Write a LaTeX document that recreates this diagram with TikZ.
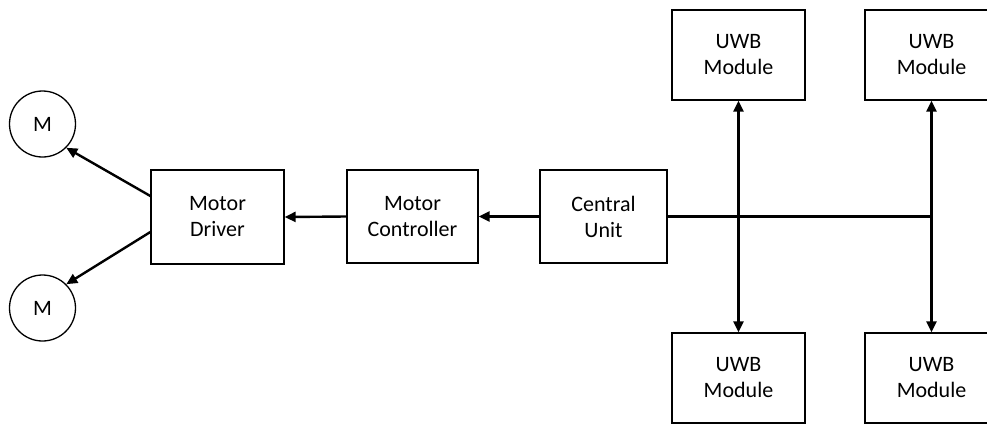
\documentclass[tikz,border=0pt]{standalone}
\usepackage{fontspec}
\setmainfont{Carlito}
\usetikzlibrary{arrows.meta}
\begin{document}
\begin{tikzpicture}[x=1pt,y=-1pt,
  block/.style={draw, line width=1.3pt, rectangle, align=center, inner sep=0pt,
    font=\fontsize{22}{26}\selectfont},
  motor/.style={draw, line width=1.3pt, circle, minimum size=66pt, inner sep=0pt,
    font=\fontsize{22}{26}\selectfont},
  link/.style={line width=2.4pt, -{Triangle[length=11pt,width=10pt]}},
  duplex/.style={line width=2.4pt, {Triangle[length=11pt,width=10pt]}-{Triangle[length=11pt,width=10pt]}},
  bus/.style={line width=2.4pt}]
  \clip (0,0) rectangle (987,423);
  \fill[white] (0,0) rectangle (987,423);

  % motors
  \node[motor] (m1) at (42.5,124) {M};
  \node[motor] (m2) at (42.5,308) {M};

  % control chain
  \node[block, minimum width=133pt, minimum height=94pt] (drv) at (217.5,217) {Motor\\Driver};
  \node[block, minimum width=131pt, minimum height=93pt] (ctl) at (412.5,216.5) {Motor\\Controller};
  \node[block, minimum width=127pt, minimum height=93pt] (cu)  at (603.5,216.5) {Central\\Unit};

  % UWB modules
  \node[block, minimum width=133pt, minimum height=90pt] (u1) at (738.5,55) {UWB\\Module};
  \node[block, minimum width=133pt, minimum height=90pt] (u2) at (931.5,55) {UWB\\Module};
  \node[block, minimum width=133pt, minimum height=90pt] (u3) at (738.5,378) {UWB\\Module};
  \node[block, minimum width=133pt, minimum height=90pt] (u4) at (931.5,378) {UWB\\Module};

  % signal flow (yshift is measured upwards on the page)
  \draw[link] ([yshift=21pt]drv.west) -- (m1.-45);
  \draw[link] ([yshift=-15pt]drv.west) -- (m2.45);
  \draw[link] (ctl.west) -- (drv.east);
  \draw[link] (cu.west) -- (ctl.east);

  % bus to the UWB modules
  \coordinate (busend) at (u2.south |- cu.east);
  \draw[bus] (cu.east) -- (busend);
  \draw[duplex] (u1.south) -- (u3.north);
  \draw[duplex] (u2.south) -- (u4.north);
\end{tikzpicture}
\end{document}
